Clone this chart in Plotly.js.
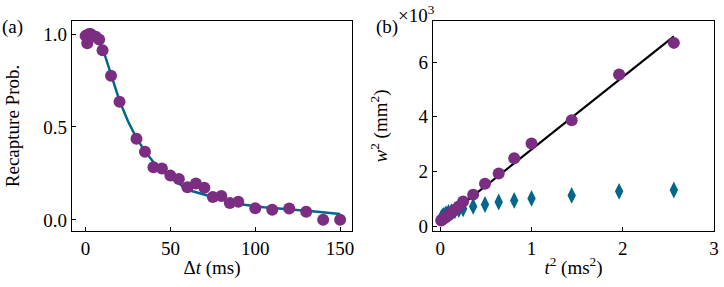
<!DOCTYPE html>
<html>
<head>
<meta charset="utf-8">
<script src="https://cdn.plot.ly/plotly-3.0.1.min.js"></script>
<style>html,body{margin:0;padding:0;background:#fff;}#chart{width:724px;height:287px;}</style>
</head>
<body>
<div id="chart"></div>
<script>
// Panel (a): recapture probability vs release time
const dtMs = [0,1,2,3,4,6,8,10,15,20,30,35,40,45,50,55,60,65,70,75,80,85,90,100,110,120,130,140,150];
const recapProb = [0.99,0.95,1.0,1.0,0.99,0.985,0.97,0.913,0.775,0.636,0.436,0.366,0.283,0.276,0.238,0.22,0.175,0.195,0.173,0.123,0.128,0.09,0.097,0.063,0.054,0.061,0.043,0.0,0.0];
const fitDt = [0,5,10,15,20,25,30,35,40,45,50,55,60,75,90,105,120,135,150];
const fitProb = [1.0,0.99,0.925,0.78,0.64,0.53,0.44,0.37,0.31,0.265,0.225,0.195,0.162,0.123,0.085,0.068,0.058,0.045,0.031];

// Panel (b): width squared vs time squared (w^2 in units of 10^3 mm^2)
const t2 = [0.01,0.0225,0.04,0.0625,0.09,0.1225,0.16,0.2025,0.25,0.36,0.49,0.64,0.81,1.0,1.44,1.96,2.56];
const w2Circle = [0.2,0.24,0.28,0.33,0.4,0.5,0.6,0.72,0.9,1.15,1.55,1.92,2.48,3.02,3.87,5.54,6.7];
const w2Diamond = [0.3,0.36,0.4,0.45,0.5,0.53,0.56,0.6,0.63,0.72,0.79,0.88,0.94,1.01,1.12,1.27,1.32];
const fitT2 = [0.0,2.56];
const fitW2 = [0.15,6.94];

const purple = '#7b2d82';
const teal = '#00668a';
const fam = 'Liberation Serif, DejaVu Serif, serif';
const font = {family: fam, size: 19, color: '#000'};
const tickFont = {family: fam, size: 19, color: '#000'};

const traces = [
  {x: fitDt, y: fitProb, mode: 'lines', line: {color: teal, width: 2.5}, xaxis: 'x', yaxis: 'y'},
  {x: dtMs, y: recapProb, mode: 'markers', marker: {color: purple, size: 12}, xaxis: 'x', yaxis: 'y'},
  {x: t2, y: w2Diamond, mode: 'markers', marker: {color: teal, size: 12, symbol: 'diamond-tall'}, xaxis: 'x2', yaxis: 'y2'},
  {x: fitT2, y: fitW2, mode: 'lines', line: {color: '#000', width: 2.2}, xaxis: 'x2', yaxis: 'y2'},
  {x: t2, y: w2Circle, mode: 'markers', marker: {color: purple, size: 12}, xaxis: 'x2', yaxis: 'y2'}
];

const axBase = {
  showline: true, mirror: true, linecolor: '#000', linewidth: 1.2,
  ticks: 'inside', ticklen: 4, tickwidth: 1, tickcolor: '#000',
  showgrid: false, zeroline: false, tickfont: tickFont, automargin: false
};

const W = 724, H = 287;
const layout = {
  width: W, height: H,
  margin: {l: 0, r: 0, t: 0, b: 0},
  paper_bgcolor: '#fff', plot_bgcolor: '#fff',
  showlegend: false, font: font,
  xaxis: Object.assign({}, axBase, {domain: [72/W, 352/W], range: [-8, 157], tickvals: [0,50,100,150], anchor: 'y',
    title: {text: 'Δ<i>t</i> (ms)', font: font, standoff: 2}}),
  yaxis: Object.assign({}, axBase, {domain: [(H-231)/H, (H-21)/H], range: [-0.06, 1.07], tickvals: [0,0.5,1.0], tickformat: '.1f', anchor: 'x',
    title: {text: 'Recapture Prob.', font: font, standoff: 18}}),
  xaxis2: Object.assign({}, axBase, {domain: [433/W, 714/W], range: [-0.08, 3.0], tickvals: [0,1,2,3], anchor: 'y2',
    title: {text: '<i>t</i><sup>2</sup> (ms<sup>2</sup>)', font: font, standoff: 2}}),
  yaxis2: Object.assign({}, axBase, {domain: [(H-231)/H, (H-21)/H], range: [-0.18, 7.5], tickvals: [0,2,4,6], anchor: 'x2',
    title: {text: '<i>w</i><sup>2</sup> (mm<sup>2</sup>)', font: font, standoff: 25}}),
  annotations: [
    {text: '(a)', xref: 'paper', yref: 'paper', x: 0, y: 1 - 14/H, xanchor: 'left', yanchor: 'top', showarrow: false, font: font},
    {text: '(b)', xref: 'paper', yref: 'paper', x: 374/W, y: 1 - 14/H, xanchor: 'left', yanchor: 'top', showarrow: false, font: font},
    {text: '×10<sup>3</sup>', xref: 'paper', yref: 'paper', x: 396/W, y: 1, xanchor: 'left', yanchor: 'top', showarrow: false, font: font}
  ]
};

Plotly.newPlot('chart', traces, layout, {displayModeBar: false});
</script>
</body>
</html>
